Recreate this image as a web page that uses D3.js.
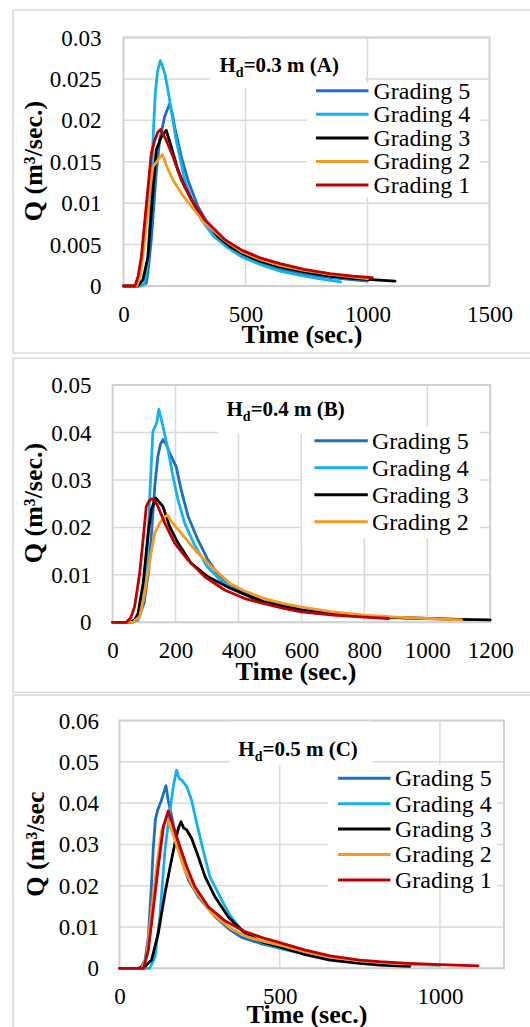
<!DOCTYPE html>
<html><head><meta charset="utf-8">
<script src="https://cdn.jsdelivr.net/npm/d3@7"></script>
<style>body{margin:0;background:#fff} svg{display:block}</style>
</head><body>
<svg id="c" width="530" height="1027"></svg>
<script>
// ---------- categories / legend ----------
const seriesNames = ["Grading 5", "Grading 4", "Grading 3", "Grading 2", "Grading 1"];
const seriesColors = ["#1f6fc0", "#14b0ef", "#000000", "#f59b23", "#c00000"];

// ---------- Panel A : Hd = 0.3 m ----------
const xTicksA = [0, 500, 1000, 1500];
const yTicksA = [0, 0.005, 0.01, 0.015, 0.02, 0.025, 0.03];
const yLabelsA = ["0", "0.005", "0.01", "0.015", "0.02", "0.025", "0.03"];
const tA5 = [0, 60, 93, 100, 114, 134, 148, 169, 189, 200, 210, 237, 264, 305, 360, 420, 486, 560, 641, 740, 850, 1000];
const qA5 = [0, 0, 0.0003, 0.0016, 0.0056, 0.0136, 0.0176, 0.0205, 0.022, 0.0208, 0.0192, 0.0156, 0.0128, 0.0096, 0.0068, 0.0049, 0.0037, 0.0027, 0.002, 0.0014, 0.001, 0.0006];
const tA4 = [0, 70, 85, 100, 112, 120, 130, 140, 151, 160, 169, 182, 200, 216, 251, 285, 319, 370, 428, 486, 560, 641, 740, 820, 890];
const qA4 = [0, 0, 0.0002, 0.003, 0.01, 0.017, 0.0232, 0.026, 0.0272, 0.0265, 0.0257, 0.0237, 0.0205, 0.0176, 0.0128, 0.0101, 0.008, 0.006, 0.0046, 0.0035, 0.0026, 0.0018, 0.0012, 0.0008, 0.0005];
const tA3 = [0, 59, 80, 100, 114, 134, 155, 175, 196, 223, 251, 285, 319, 387, 440, 497, 560, 641, 740, 846, 950, 1113];
const qA3 = [0, 0, 0.0008, 0.0035, 0.0088, 0.0164, 0.018, 0.0188, 0.0168, 0.014, 0.012, 0.0101, 0.0084, 0.006, 0.0047, 0.0038, 0.003, 0.0023, 0.0017, 0.0012, 0.0009, 0.0006];
const tA2 = [0, 55, 70, 87, 107, 121, 141, 159, 175, 203, 237, 278, 333, 415, 486, 560, 641, 740, 846, 1000];
const qA2 = [0, 0, 0.0015, 0.0056, 0.0116, 0.0144, 0.0152, 0.0159, 0.0146, 0.0128, 0.0112, 0.0096, 0.0076, 0.0055, 0.0041, 0.0032, 0.0025, 0.0019, 0.0014, 0.0009];
const tA1 = [0, 47, 60, 73, 93, 114, 128, 141, 152, 175, 203, 237, 278, 333, 415, 486, 560, 641, 740, 846, 940, 1020];
const qA1 = [0, 0, 0.0012, 0.0035, 0.0096, 0.016, 0.0176, 0.0186, 0.0189, 0.0176, 0.0156, 0.0128, 0.0104, 0.008, 0.0056, 0.0043, 0.0034, 0.0027, 0.002, 0.0015, 0.0012, 0.001];

// ---------- Panel B : Hd = 0.4 m ----------
const xTicksB = [0, 200, 400, 600, 800, 1000, 1200];
const yTicksB = [0, 0.01, 0.02, 0.03, 0.04, 0.05];
const yLabelsB = ["0", "0.01", "0.02", "0.03", "0.04", "0.05"];
const tB5 = [0, 60, 80, 100, 115, 125, 134, 144, 152, 160, 170, 181, 202, 218, 240, 271, 300, 330, 373, 420, 479, 600, 700, 800, 900, 1000];
const qB5 = [0, 0, 0.0005, 0.004, 0.011, 0.02, 0.0286, 0.035, 0.0375, 0.0385, 0.0375, 0.0357, 0.0328, 0.0279, 0.0223, 0.0174, 0.0135, 0.0105, 0.0077, 0.006, 0.0044, 0.0027, 0.0018, 0.0013, 0.001, 0.0008];
const tB4 = [0, 65, 85, 100, 110, 118, 128, 140, 147, 160, 176, 192, 208, 229, 261, 300, 340, 373, 420, 479, 600, 700, 800, 900];
const qB4 = [0, 0, 0.001, 0.006, 0.014, 0.0265, 0.0402, 0.042, 0.0449, 0.0413, 0.0364, 0.0307, 0.0258, 0.0209, 0.0162, 0.0118, 0.009, 0.0075, 0.0058, 0.0043, 0.0025, 0.0017, 0.0012, 0.0009];
const tB3 = [0, 55, 70, 81, 97, 113, 123, 137, 160, 181, 208, 250, 303, 373, 479, 600, 700, 800, 900, 1000, 1100, 1200];
const qB3 = [0, 0, 0.0005, 0.0019, 0.0082, 0.0188, 0.0237, 0.0262, 0.0244, 0.0202, 0.0167, 0.0124, 0.0096, 0.0072, 0.0043, 0.0026, 0.0018, 0.0013, 0.001, 0.0008, 0.0006, 0.0005];
const tB2 = [0, 65, 86, 102, 118, 134, 150, 166, 174, 187, 218, 261, 314, 373, 420, 479, 540, 600, 700, 800, 900, 1000, 1109];
const qB2 = [0, 0, 0.0012, 0.0061, 0.0131, 0.0188, 0.021, 0.0222, 0.0226, 0.0212, 0.0188, 0.0153, 0.0117, 0.0082, 0.0066, 0.0051, 0.004, 0.0032, 0.0022, 0.0015, 0.0011, 0.0008, 0.0005];
const tB1 = [0, 44, 58, 70, 86, 97, 107, 115, 123, 133, 144, 166, 197, 240, 293, 356, 420, 479, 540, 600, 700, 800, 877];
const qB1 = [0, 0, 0.001, 0.0033, 0.0103, 0.0174, 0.0244, 0.0255, 0.026, 0.0258, 0.0244, 0.0209, 0.0167, 0.0131, 0.0096, 0.0068, 0.005, 0.004, 0.003, 0.0022, 0.0015, 0.0011, 0.0008];

// ---------- Panel C : Hd = 0.5 m ----------
const xTicksC = [0, 500, 1000];
const yTicksC = [0, 0.01, 0.02, 0.03, 0.04, 0.05, 0.06];
const yLabelsC = ["0", "0.01", "0.02", "0.03", "0.04", "0.05", "0.06"];
const tC5 = [0, 65, 80, 90, 100, 105, 112, 119, 130, 140, 145, 152, 163, 178, 194, 215, 246, 298, 345, 381, 440, 500, 580, 657, 750, 850, 950];
const qC5 = [0, 0, 0.002, 0.0077, 0.0206, 0.0286, 0.036, 0.0383, 0.0405, 0.043, 0.0442, 0.0407, 0.0367, 0.031, 0.0262, 0.0214, 0.0173, 0.0125, 0.0093, 0.0075, 0.006, 0.0049, 0.0035, 0.0025, 0.0017, 0.0012, 0.0009];
const tC4 = [0, 95, 111, 126, 142, 155, 168, 178, 186, 194, 210, 225, 241, 261, 282, 319, 345, 371, 400, 450, 500, 580, 657, 750, 850, 1000];
const qC4 = [0, 0, 0.0028, 0.0125, 0.0286, 0.037, 0.044, 0.048, 0.046, 0.0456, 0.044, 0.0407, 0.0351, 0.0286, 0.0222, 0.0165, 0.0128, 0.0102, 0.008, 0.006, 0.0048, 0.0034, 0.0024, 0.0016, 0.0011, 0.0007];
const tC3 = [0, 58, 80, 100, 121, 142, 158, 173, 184, 192, 200, 210, 225, 246, 267, 298, 339, 391, 450, 500, 580, 657, 750, 812, 906];
const qC3 = [0, 0, 0.0005, 0.002, 0.0085, 0.0182, 0.0246, 0.0303, 0.034, 0.0355, 0.034, 0.0335, 0.0315, 0.027, 0.0222, 0.0173, 0.0125, 0.0085, 0.0062, 0.0052, 0.0033, 0.002, 0.0012, 0.0008, 0.0005];
const tC2 = [0, 70, 85, 100, 116, 132, 147, 163, 183, 204, 235, 288, 350, 400, 450, 500, 580, 657, 750, 850, 1000];
const qC2 = [0, 0, 0.003, 0.0141, 0.0246, 0.0335, 0.0363, 0.0335, 0.0286, 0.0238, 0.019, 0.0133, 0.0095, 0.0076, 0.0065, 0.0056, 0.004, 0.0027, 0.0018, 0.0012, 0.0008];
const tC1 = [0, 75, 90, 105, 121, 137, 152, 168, 189, 210, 235, 277, 329, 391, 450, 500, 580, 657, 750, 812, 900, 1000, 1119];
const qC1 = [0, 0, 0.0044, 0.0141, 0.0246, 0.0343, 0.0381, 0.0343, 0.0294, 0.0246, 0.0198, 0.0149, 0.0115, 0.0089, 0.0073, 0.0062, 0.0044, 0.003, 0.002, 0.0016, 0.0012, 0.0009, 0.0006];

// ---------- drawing ----------
const svg = d3.select("#c");
const FONT = "'Liberation Serif','Times New Roman',serif";

const panels = [
  { box:[13,10,530,343], l:123.5, r:489.5, t:37.5, b:286, xDom:[0,1500], yDom:[0,0.03],
    xTicks:xTicksA, xGrid:[500,1000], yTicks:yTicksA, yLabels:yLabelsA, yLabX:101.5,
    series:[[tA5,qA5],[tA4,qA4],[tA3,qA3],[tA2,qA2],[tA1,qA1]], legendN:5,
    titleBox:[210,39,155,49], titleX:219.5, titleY:71.5, hd:"=0.3 m (A)",
    legBox:[307,83,173,114], legLine:[316,368.5], legText:373.5, legY0:90.7, legStep:23.6,
    yTitle:"Q (m\u00B3/sec.)", yTitleX:42, yTitleY:161, xTitleX:302, xTitleY:343 },
  { box:[13,358.3,530,334], l:112.6, r:490.2, t:385, b:622.3, xDom:[0,1200], yDom:[0,0.05],
    xTicks:xTicksB, xGrid:[200,400,600,800,1000], yTicks:yTicksB, yLabels:yLabelsB, yLabX:91.5,
    series:[[tB5,qB5],[tB4,qB4],[tB3,qB3],[tB2,qB2],[tB1,qB1]], legendN:4,
    titleBox:[218,386,147,47.5], titleX:226.5, titleY:416, hd:"=0.4 m (B)",
    legBox:[302,427,178,111], legLine:[314.4,367.8], legText:372, legY0:440.7, legStep:27,
    yTitle:"Q (m\u00B3/sec.)", yTitleX:42, yTitleY:503, xTitleX:296, xTitleY:680 },
  { box:[13,695,530,340], l:119.5, r:504, t:720.5, b:968.3, xDom:[0,1200], yDom:[0,0.06],
    xTicks:xTicksC, xGrid:[500,1000], yTicks:yTicksC, yLabels:yLabelsC, yLabX:99,
    series:[[tC5,qC5],[tC4,qC4],[tC3,qC3],[tC2,qC2],[tC1,qC1]], legendN:5,
    titleBox:[230,721.5,142,43.5], titleX:238.3, titleY:756, hd:"=0.5 m (C)",
    legBox:[328,765,169,122], legLine:[338,390.5], legText:395, legY0:778.3, legStep:25.4,
    yTitle:"Q (m\u00B3/sec", yTitleX:44, yTitleY:844, xTitleX:307, xTitleY:1023 }
];

panels.forEach(p => {
  const g = svg.append("g");
  const x = d3.scaleLinear().domain(p.xDom).range([p.l, p.r]);
  const y = d3.scaleLinear().domain(p.yDom).range([p.b, p.t]);

  // outer chart border
  g.append("rect").attr("x", p.box[0]).attr("y", p.box[1]).attr("width", p.box[2]).attr("height", p.box[3])
    .attr("fill", "none").attr("stroke", "#d9d9d9").attr("stroke-width", 1.5);

  // gridlines
  g.selectAll(".hg").data(p.yTicks).join("line")
    .attr("x1", p.l).attr("x2", p.r).attr("y1", d => y(d)).attr("y2", d => y(d))
    .attr("stroke", "#d9d9d9").attr("stroke-width", 1.5);
  g.selectAll(".vg").data(p.xGrid).join("line")
    .attr("y1", p.t).attr("y2", p.b).attr("x1", d => x(d)).attr("x2", d => x(d))
    .attr("stroke", "#d9d9d9").attr("stroke-width", 1.5);
  // plot area border
  g.append("rect").attr("x", p.l).attr("y", p.t).attr("width", p.r - p.l).attr("height", p.b - p.t)
    .attr("fill", "none").attr("stroke", "#d0d0d0").attr("stroke-width", 2);

  // title box and legend box (white, covering gridlines)
  g.append("rect").attr("x", p.titleBox[0]).attr("y", p.titleBox[1]).attr("width", p.titleBox[2]).attr("height", p.titleBox[3]).attr("fill", "#fff");
  g.append("rect").attr("x", p.legBox[0]).attr("y", p.legBox[1]).attr("width", p.legBox[2]).attr("height", p.legBox[3]).attr("fill", "#fff");

  // series
  const line = d3.line().x(d => x(d[0])).y(d => y(d[1]));
  p.series.forEach((s, i) => {
    g.append("path").datum(d3.zip(s[0], s[1])).attr("d", line)
      .attr("fill", "none").attr("stroke", seriesColors[i]).attr("stroke-width", 2.8)
      .attr("stroke-linejoin", "round").attr("stroke-linecap", "round");
  });

  // axes
  const ya = g.append("g").attr("transform", `translate(${p.yLabX},0)`)
    .call(d3.axisLeft(y).tickValues(p.yTicks).tickFormat((d, i) => p.yLabels[i]).tickSize(0).tickPadding(0));
  ya.select(".domain").remove();
  ya.attr("font-family", FONT).attr("font-size", 23);
  ya.selectAll("text").attr("font-family", FONT).attr("font-size", 23).attr("fill", "#000").attr("dy", "0.33em");

  const xa = g.append("g").attr("transform", `translate(0,${p.b})`)
    .call(d3.axisBottom(x).tickValues(p.xTicks).tickFormat(d3.format("d")).tickSize(0).tickPadding(0));
  xa.select(".domain").remove();
  xa.attr("font-family", FONT).attr("font-size", 23);
  xa.selectAll("text").attr("font-family", FONT).attr("font-size", 23).attr("fill", "#000").attr("y", 36).attr("dy", "0");

  // chart title
  const tt = g.append("text").attr("x", p.titleX).attr("y", p.titleY)
    .attr("font-family", FONT).attr("font-size", 21).attr("font-weight", "bold");
  tt.append("tspan").text("H");
  tt.append("tspan").attr("font-size", 14).attr("dy", 5).text("d");
  tt.append("tspan").attr("dy", -5).text(p.hd);

  // legend
  for (let i = 0; i < p.legendN; i++) {
    const ly = p.legY0 + i * p.legStep;
    g.append("line").attr("x1", p.legLine[0]).attr("x2", p.legLine[1]).attr("y1", ly).attr("y2", ly)
      .attr("stroke", seriesColors[i]).attr("stroke-width", 3);
    g.append("text").attr("x", p.legText).attr("y", ly).attr("dy", "0.33em")
      .attr("font-family", FONT).attr("font-size", 24).text(seriesNames[i]);
  }

  // axis titles
  g.append("text").attr("x", p.xTitleX).attr("y", p.xTitleY).attr("text-anchor", "middle")
    .attr("font-family", FONT).attr("font-size", 26).attr("font-weight", "bold").text("Time (sec.)");
  g.append("text").attr("transform", `translate(${p.yTitleX},${p.yTitleY}) rotate(-90)`)
    .attr("text-anchor", "middle").attr("font-family", FONT).attr("font-size", 26).attr("font-weight", "bold")
    .text(p.yTitle);
});
</script>
</body></html>
